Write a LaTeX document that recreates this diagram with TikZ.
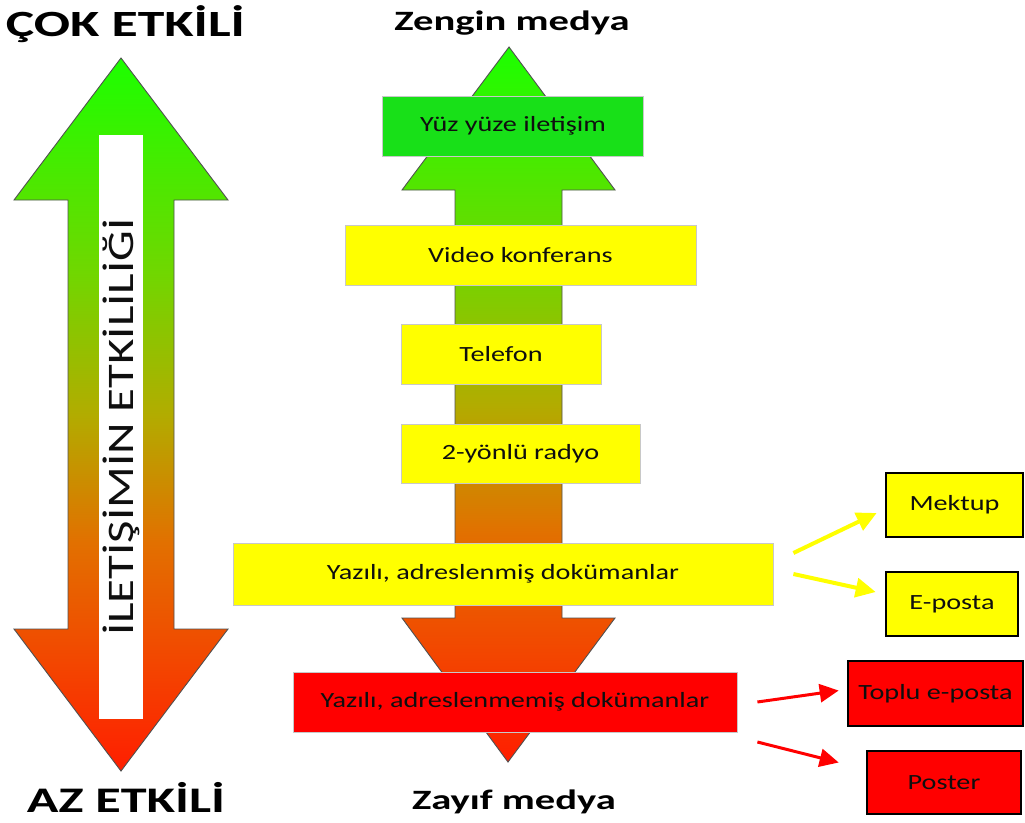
\documentclass[tikz,border=0pt]{standalone}
\usepackage{fontspec}
\setmainfont{Carlito}[FakeStretch=1.3]
\newfontfamily\headfont{Carlito}[FakeStretch=1.45]
\usetikzlibrary{arrows.meta}
\definecolor{cR}{RGB}{255,30,0}
\definecolor{cO2}{RGB}{242,72,0}
\definecolor{cO1}{RGB}{226,112,0}
\definecolor{cOl}{RGB}{178,172,0}
\definecolor{cYG}{RGB}{112,215,0}
\definecolor{cG}{RGB}{28,255,0}
\definecolor{boxgreen}{RGB}{24,224,24}
\definecolor{boxyellow}{RGB}{255,255,0}
\definecolor{boxred}{RGB}{255,0,0}
\definecolor{txt}{RGB}{15,15,15}
\definecolor{arrowline}{RGB}{80,80,80}
\definecolor{thinborder}{RGB}{200,200,200}
\pgfdeclareverticalshading{effshade}{100bp}{color(0bp)=(cR); color(25bp)=(cR); color(33bp)=(cO2); color(41bp)=(cO1); color(50bp)=(cOl); color(60bp)=(cYG); color(75bp)=(cG); color(100bp)=(cG)}
\tikzset{
  bigarrow/.style={shading=effshade, draw=arrowline, line width=0.9pt, line join=miter},
  cbox/.style={draw=thinborder, line width=0.8pt, inner sep=0pt, text=txt, font=\fontsize{21.7}{26}\selectfont},
  sbox/.style={draw=black, line width=2.6pt, inner sep=0pt, text=txt, font=\fontsize{21.7}{26}\selectfont},
  head/.style={inner sep=0pt, anchor=base, text=black, font=\headfont\bfseries},
  yarrow/.style={draw=boxyellow, line width=4pt, -{Triangle[length=20pt,width=19pt]}},
  rarrow/.style={draw=boxred, line width=3pt, -{Triangle[length=19pt,width=18pt]}}
}
\begin{document}
\begin{tikzpicture}[x=1pt,y=-1pt]
\useasboundingbox (0,0) rectangle (1025,822);
% left double arrow
\path[bigarrow] (121,58) -- (228,200) -- (174,200) -- (174,629) -- (228,629) -- (121,771) -- (14,629) -- (68,629) -- (68,200) -- (14,200) -- cycle;
\node[fill=white, rotate=90, minimum width=584pt, minimum height=44pt, inner sep=0pt, text=txt, font=\fontsize{37.5}{38}\selectfont] (wbar) at (121,427) {İLETİŞİMİN ETKİLİLİĞİ};
% center double arrow
\path[bigarrow] (509,47) -- (615,190) -- (562,190) -- (562,618) -- (615,618) -- (508,762) -- (402,618) -- (455,618) -- (455,190) -- (402,190) -- cycle;
% headings
\node[head, font=\headfont\bfseries\fontsize{37}{37}\selectfont] (cok) at (125.5,36) {ÇOK ETKİLİ};
\node[head, font=\headfont\bfseries\fontsize{36}{36}\selectfont] (az) at (126,812) {AZ ETKİLİ};
\node[head, font=\headfont\bfseries\fontsize{28}{28}\selectfont] (zen) at (512,30) {Zengin medya};
\node[head, font=\headfont\bfseries\fontsize{28}{28}\selectfont] (zay) at (514,809) {Zayıf medya};
% centre boxes
\node[cbox, fill=boxgreen, minimum width=261pt, minimum height=60pt] (yuz) at (513,126) {Yüz yüze iletişim};
\node[cbox, fill=boxyellow, minimum width=351pt, minimum height=60pt] (vid) at (520.5,255) {Video konferans};
\node[cbox, fill=boxyellow, minimum width=200pt, minimum height=60pt] (tel) at (501,354) {Telefon};
\node[cbox, fill=boxyellow, minimum width=239pt, minimum height=59pt] (rad) at (520.5,453.5) {2-yönlü radyo};
\node[cbox, fill=boxyellow, minimum width=540pt, minimum height=62pt] (yad) at (503,574) {Yazılı, adreslenmiş dokümanlar};
\node[cbox, fill=boxred, minimum width=444pt, minimum height=60pt] (yam) at (515,702) {Yazılı, adreslenmemiş dokümanlar};
% side boxes
\node[sbox, fill=boxyellow, minimum width=137pt, minimum height=64pt] (mek) at (954.5,505) {Mektup};
\node[sbox, fill=boxyellow, minimum width=132pt, minimum height=64pt] (epo) at (952,604) {E-posta};
\node[sbox, fill=boxred, minimum width=175pt, minimum height=65pt] (top) at (935.5,693.5) {Toplu e-posta};
\node[sbox, fill=boxred, minimum width=154pt, minimum height=63pt] (pos) at (944,782.5) {Poster};
% connectors
\draw[yarrow] ([xshift=20pt,yshift=21pt]yad.east) -- ([xshift=-8pt,yshift=-8pt]mek.west);
\draw[yarrow] ([xshift=20pt,yshift=0pt]yad.east) -- ([xshift=-9pt,yshift=12pt]epo.west);
\draw[rarrow] ([xshift=20pt,yshift=0pt]yam.east) -- ([xshift=-8pt,yshift=3pt]top.west);
\draw[rarrow] ([xshift=20pt,yshift=-40pt]yam.east) -- ([xshift=-27pt,yshift=20pt]pos.west);
\end{tikzpicture}
\end{document}
